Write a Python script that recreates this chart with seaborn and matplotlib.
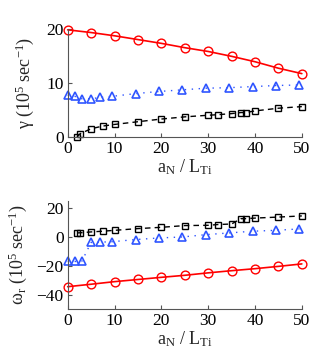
import numpy as np
import pandas as pd
import matplotlib
matplotlib.use("Agg")
import matplotlib.pyplot as plt
import seaborn as sns

# ---- data ----
x_circ = [0, 5, 10, 15, 20, 25, 30, 35, 40, 45, 50]
gamma_circ = [19.8, 19.3, 18.7, 18.0, 17.3, 16.5, 15.8, 14.9, 13.9, 12.7, 11.7]
omega_circ = [-34.5, -32.8, -31.0, -29.5, -28.0, -26.6, -24.9, -23.4, -22.0, -20.4, -18.7]

x_tri = [0, 1.5, 3, 5, 7, 9.5, 14.5, 19.5, 24.5, 29.5, 34.5, 39.5, 44.5, 49.5]
gamma_tri = [7.7, 7.5, 7.05, 7.05, 7.3, 7.5, 8.0, 8.4, 8.7, 9.0, 9.1, 9.3, 9.5, 9.6]
omega_tri = [-17.0, -17.0, -17.0, -3.8, -3.6, -3.3, -1.8, -0.7, 0.0, 1.6, 2.8, 4.0, 4.6, 5.6]

x_sq = [2, 2.7, 5, 7.5, 10, 15, 20, 25, 30, 32, 35, 37, 38, 40, 45, 50]
gamma_sq = [0.0, 0.6, 1.5, 2.0, 2.3, 2.8, 3.3, 3.7, 4.0, 4.1, 4.3, 4.5, 4.5, 4.8, 5.3, 5.6]
omega_sq = [2.8, 2.9, 3.5, 4.0, 4.6, 5.8, 6.7, 7.9, 8.1, 8.6, 9.0, 12.7, 12.7, 13.1, 13.8, 14.6]

x_ticks = [0, 10, 20, 30, 40, 50]
gamma_ticks = [0, 10, 20]
omega_ticks = [-40, -20, 0, 20]

xlabel = r"a$_{\mathrm{N}}$ / L$_{\mathrm{Ti}}$"
ylabel_top = r"γ (10$^{5}$ sec$^{-1}$)"
ylabel_bot = r"ω$_{\mathrm{r}}$ (10$^{5}$ sec$^{-1}$)"

RED = "#FF0000"
BLUE = "#2F55FF"
BLACK = "#000000"

sns.set_style("ticks")
plt.rcParams["font.family"] = ["Liberation Serif", "DejaVu Serif"]
plt.rcParams["mathtext.fontset"] = "custom"
plt.rcParams["mathtext.rm"] = "Liberation Serif"
plt.rcParams["mathtext.it"] = "Liberation Serif:italic"
plt.rcParams["font.size"] = 12.5

fig = plt.figure(figsize=(3.35, 3.64), dpi=100)
ax1 = fig.add_axes([0.202, 0.624, 0.699, 0.297])
ax2 = fig.add_axes([0.202, 0.151, 0.699, 0.297])


def draw(ax, ys_circ, ys_tri, ys_sq):
    sns.lineplot(x=x_sq, y=ys_sq, ax=ax, color=BLACK, marker="s", markersize=4.5,
                 markerfacecolor="none", markeredgecolor=BLACK, markeredgewidth=1.0,
                 lw=1.0, dashes=False, linestyle=(0, (4, 3)), estimator=None, sort=False)
    sns.lineplot(x=x_tri, y=ys_tri, ax=ax, color=BLUE, marker="^", markersize=6.3,
                 markerfacecolor="none", markeredgecolor=BLUE, markeredgewidth=1.2,
                 lw=1.0, linestyle=(0, (1, 4)), estimator=None, sort=False)
    sns.lineplot(x=x_circ, y=ys_circ, ax=ax, color=RED, marker="o", markersize=6.3,
                 markerfacecolor="none", markeredgecolor=RED, markeredgewidth=1.0,
                 lw=1.2, linestyle="-", estimator=None, sort=False)
    ax.set_xlim(0, 50)
    ax.set_xticks(x_ticks)
    ax.set_xlabel(xlabel, fontsize=13, labelpad=0)
    for s in ["top", "right"]:
        ax.spines[s].set_visible(False)
    for s in ["left", "bottom"]:
        ax.spines[s].set_color("#555555")
        ax.spines[s].set_linewidth(0.8)
    ax.tick_params(direction="in", length=3, width=0.8, color="#555555",
                   labelsize=12.5, pad=3, labelcolor="black")
    for l in ax.lines:
        l.set_clip_on(False)


draw(ax1, gamma_circ, gamma_tri, gamma_sq)
ax1.set_ylim(0, 20)
ax1.set_yticks(gamma_ticks)
ax1.set_ylabel(ylabel_top, fontsize=13, labelpad=7)

draw(ax2, omega_circ, omega_tri, omega_sq)
ax2.set_ylim(-50, 25)
ax2.set_yticks(omega_ticks)
ax2.set_ylabel(ylabel_bot, fontsize=13, labelpad=5)

fig.savefig("out.png", dpi=100)
